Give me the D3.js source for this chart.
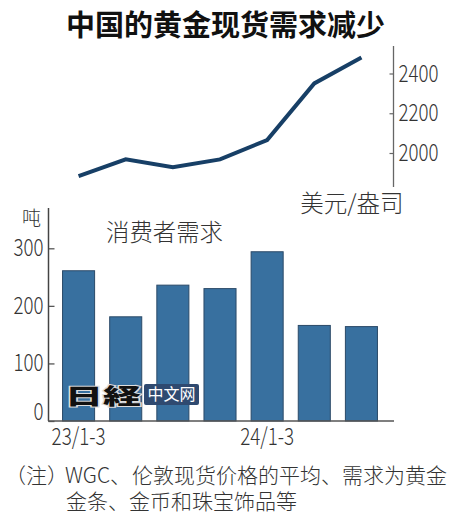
<!DOCTYPE html>
<html>
<head>
<meta charset="utf-8">
<script src="https://cdn.jsdelivr.net/npm/d3@7"></script>
<style>
    html, body { margin: 0; padding: 0; background: #fff; }
    text { font-family: "Noto Sans CJK SC", sans-serif; fill: #333; }
</style>
</head>
<body>
<div id="chart"></div>
<script>
const quarters = ["23/1-3", "23/4-6", "23/7-9", "23/10-12", "24/1-3", "24/4-6", "24/7-9"];
const shownQuarters = ["23/1-3", "24/1-3"];
const goldPrice = [1884, 1968, 1928, 1968, 2065, 2350, 2481];
const demand = [261, 181, 236, 230, 294, 166, 164];
const priceTicks = [2000, 2200, 2400];
const demandTicks = [0, 100, 200, 300];

const width = 450;
const height = 522;

const svg = d3.select("#chart").append("svg")
    .attr("width", width)
    .attr("height", height)
    .style("display", "block");

const xScale = d3.scaleBand()
    .domain(quarters)
    .range([55, 385])
    .paddingInner(0.32)
    .paddingOuter(0.16);

// The reference uses a narrow face for numbers, so squeeze them to fit
function narrowLabels(sel, charWidth) {
    sel.style("font-size", "23.5px")
        .style("font-weight", 300)
        .style("fill", "#333")
        .attr("lengthAdjust", "spacingAndGlyphs")
        .attr("textLength", function () { return this.textContent.length * charWidth; });
}

// Lower panel: consumer demand bars
const yDemand = d3.scaleLinear()
    .domain([0, 300])
    .range([421, 248.3]);

svg.selectAll("rect.bar")
    .data(demand)
    .join("rect")
    .attr("class", "bar")
    .attr("x", (d, i) => xScale(quarters[i]))
    .attr("y", (d) => yDemand(d))
    .attr("width", xScale.bandwidth())
    .attr("height", (d) => yDemand(0) - yDemand(d))
    .attr("fill", "#38709f")
    .attr("stroke", "#2b4a68")
    .attr("stroke-width", 1);

const demandAxis = svg.append("g")
    .attr("transform", "translate(48.5,0)")
    .call(d3.axisRight(yDemand).tickValues(demandTicks).tickSize(6).tickSizeOuter(0));
demandAxis.select(".domain").remove();
demandAxis.selectAll("line").attr("stroke", "#555").attr("stroke-width", 1.3);
demandAxis.selectAll("text")
    .attr("x", -5)
    .attr("text-anchor", "end")
    .call(narrowLabels, 10);
// the zero label sits above the baseline in the reference
demandAxis.selectAll("text")
    .filter((d) => d === 0)
    .attr("y", -9);

svg.append("line")
    .attr("x1", 48.5).attr("x2", 48.5)
    .attr("y1", yDemand.range()[0]).attr("y2", 208)
    .attr("stroke", "#444").attr("stroke-width", 1.5);

const xAxis = svg.append("g")
    .attr("transform", "translate(0,421)")
    .call(d3.axisBottom(xScale).tickValues(shownQuarters).tickSize(0).tickPadding(7));
xAxis.select(".domain").remove();
xAxis.selectAll("text").call(narrowLabels, 9);

svg.append("line")
    .attr("x1", 48).attr("x2", 394)
    .attr("y1", 421).attr("y2", 421)
    .attr("stroke", "#555").attr("stroke-width", 1.5);

// Upper panel: gold price line
const yPrice = d3.scaleLinear()
    .domain([2000, 2400])
    .range([153, 73.5]);

const line = d3.line()
    .x((d, i) => xScale(quarters[i]) + xScale.bandwidth() / 2)
    .y((d) => yPrice(d));

svg.append("path")
    .datum(goldPrice)
    .attr("fill", "none")
    .attr("stroke", "#173f66")
    .attr("stroke-width", 4)
    .attr("d", line);

const priceAxis = svg.append("g")
    .attr("transform", "translate(393.5,0)")
    .call(d3.axisLeft(yPrice).tickValues(priceTicks).tickFormat(d3.format("d")).tickSize(4).tickSizeOuter(0));
priceAxis.select(".domain").remove();
priceAxis.selectAll("line").attr("stroke", "#666").attr("stroke-width", 1.2);
priceAxis.selectAll("text")
    .attr("x", 5)
    .attr("text-anchor", "start")
    .call(narrowLabels, 10);

svg.append("line")
    .attr("x1", 393.5).attr("x2", 393.5)
    .attr("y1", 46).attr("y2", 187)
    .attr("stroke", "#666").attr("stroke-width", 1.3);

// Text labels
svg.append("text")
    .attr("x", 225.5).attr("y", 36)
    .attr("text-anchor", "middle")
    .style("font-size", "29px")
    .style("font-weight", 700)
    .style("fill", "#111")
    .text("中国的黄金现货需求减少");

svg.append("text")
    .attr("x", 352).attr("y", 212)
    .attr("text-anchor", "middle")
    .style("font-size", "23.5px")
    .style("font-weight", 300)
    .text("美元/盎司");

svg.append("text")
    .attr("x", 22).attr("y", 225)
    .style("font-size", "19px")
    .style("font-weight", 300)
    .text("吨");

svg.append("text")
    .attr("x", 106).attr("y", 241)
    .style("font-size", "23.4px")
    .style("font-weight", 300)
    .text("消费者需求");

const noteLine = svg.append("text")
    .attr("y", 483)
    .style("font-size", "21px")
    .style("font-weight", 300);
noteLine.append("tspan").attr("x", 5).text("（注）");
noteLine.append("tspan").attr("x", 65).text("WGC、");
noteLine.append("tspan").attr("x", 132).text("伦敦现货价格的平均、需求为黄金");

svg.append("text")
    .attr("x", 66).attr("y", 509)
    .style("font-size", "21px")
    .style("font-weight", 300)
    .text("金条、金币和珠宝饰品等");

// Watermark
const logo = svg.append("g");
logo.append("text")
    .attr("x", 65).attr("y", 404)
    .style("font-family", "'Noto Sans CJK JP', sans-serif")
    .style("font-size", "22px")
    .style("font-weight", 900)
    .style("fill", "#111")
    .style("stroke", "#ddd")
    .style("stroke-width", 2)
    .style("paint-order", "stroke")
    .attr("lengthAdjust", "spacingAndGlyphs")
    .attr("textLength", 76)
    .text("日経");
logo.append("rect")
    .attr("x", 144).attr("y", 384)
    .attr("width", 55).attr("height", 21)
    .attr("rx", 2)
    .attr("fill", "#2f4a70");
logo.append("text")
    .attr("x", 171.5).attr("y", 400)
    .attr("text-anchor", "middle")
    .style("font-size", "16px")
    .style("fill", "#fff")
    .text("中文网");
</script>
</body>
</html>
